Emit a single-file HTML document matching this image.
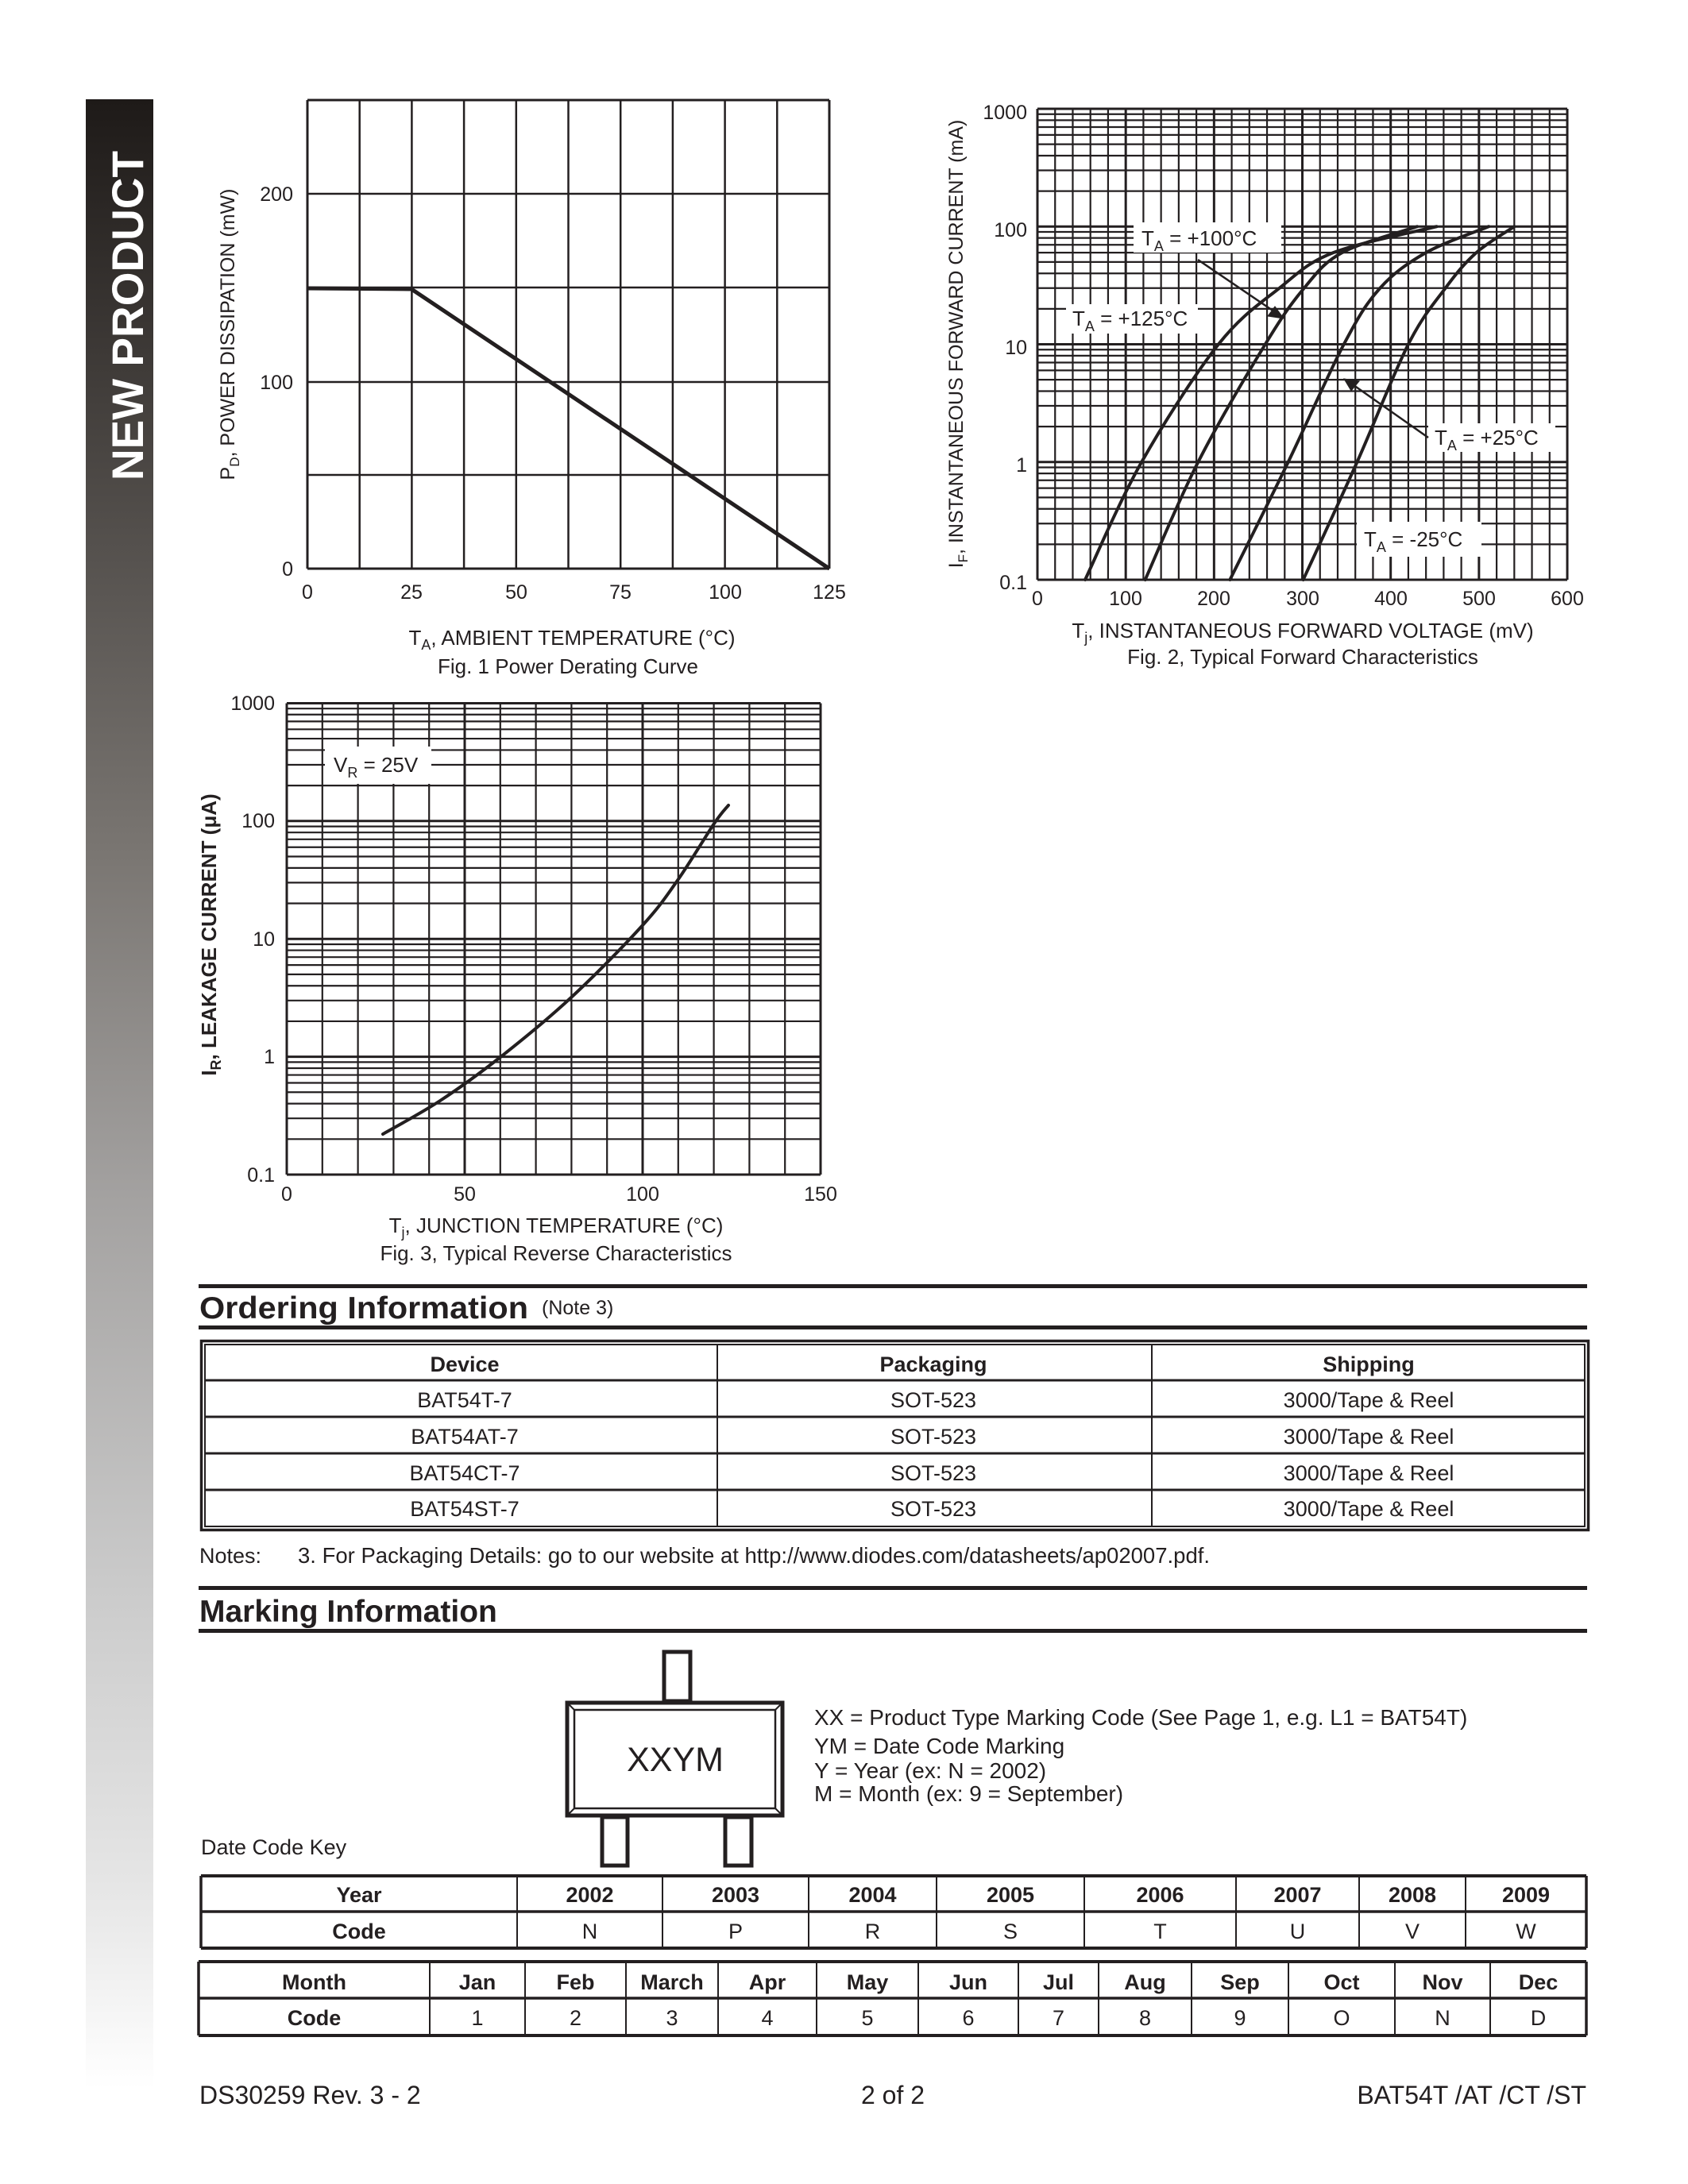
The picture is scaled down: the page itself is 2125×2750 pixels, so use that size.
<!DOCTYPE html>
<html><head><meta charset="utf-8"><style>
html,body{margin:0;padding:0;background:#fff}
svg{display:block}
text{font-family:"Liberation Sans",Arial,sans-serif;fill:#231f20}
</style></head><body>
<svg id="s" xmlns="http://www.w3.org/2000/svg" width="2125" height="2750" viewBox="0 0 2125 2750">
<defs>
<linearGradient id="g" x1="0" y1="0" x2="0" y2="1">
<stop offset="0" stop-color="#1e1a18"/>
<stop offset="0.18" stop-color="#4a4643"/>
<stop offset="0.38" stop-color="#7a7672"/>
<stop offset="0.55" stop-color="#a3a1a0"/>
<stop offset="0.75" stop-color="#cbcbcb"/>
<stop offset="0.9" stop-color="#e6e6e6"/>
<stop offset="1" stop-color="#ffffff"/>
</linearGradient>
</defs>
<rect width="2125" height="2750" fill="#fff"/>
<rect x="108" y="125" width="85" height="2505" fill="url(#g)"/>
<text transform="translate(180,605) rotate(-90)" font-size="56" font-weight="bold" style="fill:#fff" textLength="415" lengthAdjust="spacingAndGlyphs">NEW PRODUCT</text>

<g id="grids" stroke="#231f20" fill="none"></g>

<!-- Fig1 curve -->
<polyline points="387,363 518,364 1044,716" fill="none" stroke="#231f20" stroke-width="5"/>
<g font-size="25" text-anchor="end">
<text x="369" y="253">200</text><text x="369" y="490">100</text><text x="369" y="725">0</text>
</g>
<g font-size="25" text-anchor="middle">
<text x="387" y="754">0</text><text x="518" y="754">25</text><text x="650" y="754">50</text><text x="781" y="754">75</text><text x="913" y="754">100</text><text x="1044" y="754">125</text>
</g>
<text transform="translate(295,421) rotate(-90)" font-size="25" text-anchor="middle">P<tspan font-size="17" dy="6">D</tspan><tspan dy="-6">, POWER DISSIPATION (mW)</tspan></text>
<text x="720" y="812" font-size="26" text-anchor="middle">T<tspan font-size="18" dy="6">A</tspan><tspan dy="-6">,  AMBIENT TEMPERATURE (°C)</tspan></text>
<text x="715" y="848" font-size="26" text-anchor="middle">Fig. 1  Power Derating Curve</text>

<!-- Fig2 labels -->
<g font-size="25" text-anchor="end">
<text x="1293" y="150">1000</text><text x="1293" y="298">100</text><text x="1293" y="446">10</text><text x="1293" y="594">1</text><text x="1293" y="742">0.1</text>
</g>
<g font-size="25" text-anchor="middle">
<text x="1306" y="762">0</text><text x="1417" y="762">100</text><text x="1528" y="762">200</text><text x="1640" y="762">300</text><text x="1751" y="762">400</text><text x="1862" y="762">500</text><text x="1973" y="762">600</text>
</g>
<text transform="translate(1212,433) rotate(-90)" font-size="25" text-anchor="middle">I<tspan font-size="17" dy="6">F</tspan><tspan dy="-6">, INSTANTANEOUS FORWARD CURRENT (mA)</tspan></text>
<text x="1640" y="803" font-size="26" text-anchor="middle">T<tspan font-size="18" dy="6">j</tspan><tspan dy="-6">, INSTANTANEOUS FORWARD VOLTAGE (mV)</tspan></text>
<text x="1640" y="836" font-size="26" text-anchor="middle">Fig. 2, Typical Forward Characteristics</text>

<!-- Fig3 labels -->
<g font-size="25" text-anchor="end">
<text x="346" y="894">1000</text><text x="346" y="1042">100</text><text x="346" y="1191">10</text><text x="346" y="1339">1</text><text x="346" y="1488">0.1</text>
</g>
<g font-size="25" text-anchor="middle">
<text x="361" y="1512">0</text><text x="585" y="1512">50</text><text x="809" y="1512">100</text><text x="1033" y="1512">150</text>
</g>
<text transform="translate(272,1177) rotate(-90)" font-size="26" font-weight="bold" text-anchor="middle">I<tspan font-size="18" dy="6">R</tspan><tspan dy="-6">, LEAKAGE CURRENT (μA)</tspan></text>
<text x="700" y="1552" font-size="26" text-anchor="middle">T<tspan font-size="18" dy="6">j</tspan><tspan dy="-6">, JUNCTION TEMPERATURE (°C)</tspan></text>
<text x="700" y="1587" font-size="26" text-anchor="middle">Fig. 3, Typical Reverse Characteristics</text>

<!-- Ordering -->
<rect x="250" y="1617" width="1748" height="5" fill="#231f20"/>
<text x="251" y="1660" font-size="39" font-weight="bold" textLength="414" lengthAdjust="spacingAndGlyphs">Ordering Information</text>
<text x="682" y="1655" font-size="25">(Note 3)</text>
<rect x="250" y="1669" width="1748" height="5" fill="#231f20"/>
<rect x="253.5" y="1688.5" width="1746" height="238" fill="none" stroke="#231f20" stroke-width="3.5"/>
<rect x="258" y="1693" width="1737" height="229" fill="none" stroke="#231f20" stroke-width="2"/>
<g stroke="#231f20" stroke-width="3">
<line x1="258" y1="1738" x2="1995" y2="1738"/><line x1="258" y1="1784" x2="1995" y2="1784"/><line x1="258" y1="1830" x2="1995" y2="1830"/><line x1="258" y1="1876" x2="1995" y2="1876"/>
</g>
<g stroke="#231f20" stroke-width="2"><line x1="903" y1="1693" x2="903" y2="1922"/><line x1="1450" y1="1693" x2="1450" y2="1922"/></g>
<g font-size="27" text-anchor="middle">
<text x="585" y="1727" font-weight="bold">Device</text><text x="1175" y="1727" font-weight="bold">Packaging</text><text x="1723" y="1727" font-weight="bold">Shipping</text>
<text x="585" y="1772">BAT54T-7</text><text x="1175" y="1772">SOT-523</text><text x="1723" y="1772">3000/Tape &amp; Reel</text>
<text x="585" y="1818">BAT54AT-7</text><text x="1175" y="1818">SOT-523</text><text x="1723" y="1818">3000/Tape &amp; Reel</text>
<text x="585" y="1864">BAT54CT-7</text><text x="1175" y="1864">SOT-523</text><text x="1723" y="1864">3000/Tape &amp; Reel</text>
<text x="585" y="1909">BAT54ST-7</text><text x="1175" y="1909">SOT-523</text><text x="1723" y="1909">3000/Tape &amp; Reel</text>
</g>
<text x="251" y="1968" font-size="27">Notes:</text>
<text x="375" y="1968" font-size="27.5">3.  For Packaging Details: go to our website at http://www.diodes.com/datasheets/ap02007.pdf.</text>

<!-- Marking -->
<rect x="250" y="1997" width="1748" height="5" fill="#231f20"/>
<text x="251" y="2042" font-size="39" font-weight="bold">Marking Information</text>
<rect x="250" y="2051" width="1748" height="5" fill="#231f20"/>
<g stroke="#231f20" fill="#fff">
<rect x="836" y="2080" width="33" height="62" stroke-width="5"/>
<rect x="758" y="2288" width="32" height="61" stroke-width="5"/>
<rect x="913" y="2288" width="33" height="61" stroke-width="5"/>
<rect x="714" y="2144" width="271" height="142" stroke-width="5"/>
<rect x="723" y="2153" width="253" height="124" stroke-width="2.5"/>
<line x1="716" y1="2146" x2="723" y2="2153" stroke-width="2"/><line x1="983" y1="2146" x2="976" y2="2153" stroke-width="2"/>
<line x1="716" y1="2284" x2="723" y2="2277" stroke-width="2"/><line x1="983" y1="2284" x2="976" y2="2277" stroke-width="2"/>
</g>
<text x="850" y="2230" font-size="43" text-anchor="middle">XXYM</text>
<g font-size="28">
<text x="1025" y="2172">XX = Product Type Marking Code (See Page 1, e.g. L1 = BAT54T)</text>
<text x="1025" y="2208">YM = Date Code Marking</text>
<text x="1025" y="2239">Y = Year (ex: N = 2002)</text>
<text x="1025" y="2268">M = Month (ex: 9 = September)</text>
<text x="253" y="2335" font-size="27">Date Code Key</text>
</g>
<g id="tables"></g>

<g font-size="32">
<text x="251" y="2649">DS30259 Rev. 3 - 2</text>
<text x="1124" y="2649" text-anchor="middle">2 of 2</text>
<text x="1997" y="2649" text-anchor="end">BAT54T /AT /CT /ST</text>
</g>
</svg>
<script>
var NS="http://www.w3.org/2000/svg";
var G=document.getElementById("grids");
function L(x1,y1,x2,y2,w,p){var e=document.createElementNS(NS,"line");e.setAttribute("x1",x1);e.setAttribute("y1",y1);e.setAttribute("x2",x2);e.setAttribute("y2",y2);e.setAttribute("stroke-width",w);(p||G).appendChild(e);}
function P(pts,w){var d="M"+pts[0][0]+","+pts[0][1];
for(var i=0;i<pts.length-1;i++){var p0=pts[i-1]||pts[i],p1=pts[i],p2=pts[i+1],p3=pts[i+2]||p2;
var c1=[p1[0]+(p2[0]-p0[0])/6,p1[1]+(p2[1]-p0[1])/6],c2=[p2[0]-(p3[0]-p1[0])/6,p2[1]-(p3[1]-p1[1])/6];
d+=" C"+c1.join(",")+" "+c2.join(",")+" "+p2.join(",");}
var e=document.createElementNS(NS,"path");e.setAttribute("d",d);e.setAttribute("stroke-width",w);e.setAttribute("fill","none");e.setAttribute("stroke-linecap","round");G.appendChild(e);}
function R(x,y,w,h){var e=document.createElementNS(NS,"rect");e.setAttribute("x",x);e.setAttribute("y",y);e.setAttribute("width",w);e.setAttribute("height",h);e.setAttribute("fill","#fff");e.setAttribute("stroke","none");G.appendChild(e);}
function T(x,y,s,sub,rest,fs){var e=document.createElementNS(NS,"text");e.setAttribute("x",x);e.setAttribute("y",y);e.setAttribute("font-size",fs||26);e.setAttribute("stroke","none");e.setAttribute("fill","#231f20");e.innerHTML=s+'<tspan font-size="18" dy="7">'+sub+'</tspan><tspan dy="-7">'+rest+'</tspan>';G.appendChild(e);}
// Fig1
(function(){var l=387,r=1044,t=126,b=716;
for(var i=0;i<=10;i++){var x=l+(r-l)*i/10;L(x,t,x,b,(i==0||i==10)?3:2.5);}
var ys=[126,244,362,481,598,716];ys.forEach(function(y,i){L(l,y,r,y,(i==0||i==5)?3:2.5);});
})();
// Fig2
var F2={l:1306,r:1973,t:137,b:730};
function y2(I){return 730-(Math.log10(I)+1)*148.25;}
function x2(v){return 1306+v*1.1117;}
(function(){var f=F2;
for(var v=0;v<=600;v+=20){L(x2(v),f.t,x2(v),f.b,(v%100==0)?3:2.2);}
for(var d=-1;d<3;d++){var base=Math.pow(10,d);
[1,2,3,4,5,6,7,8,9].forEach(function(m){var y=y2(base*m);L(f.l,y,f.r,y,m==1?3:2.2);});}
L(f.l,f.t,f.r,f.t,3);
R(1427,280,186,38);R(1342,383,166,37);R(1798,533,160,36);R(1708,657,157,44);
T(1437,309,"T","A"," = +100°C");T(1350,410,"T","A"," = +125°C");T(1806,560,"T","A"," = +25°C");T(1717,688,"T","A"," = -25°C");
L(1508,327,1611,397,2.5);L(1798,551,1697,480,2.5);
var pa=document.createElementNS(NS,"polygon");pa.setAttribute("points","1616,401 1596,398 1605,386");pa.setAttribute("fill","#231f20");G.appendChild(pa);
var pb=document.createElementNS(NS,"polygon");pb.setAttribute("points","1692,477 1711,480 1701,492");pb.setAttribute("fill","#231f20");G.appendChild(pb);
var Is=[0.1,1,10,30,60,100];
var C=[[301,362,420,462,497,540],[218,284,347,388,440,511],[122,182,258,302,345,430],[54,118,205,274,335,452]];
C.forEach(function(c){P(c.map(function(v,i){return [x2(v),y2(Is[i])];}),4);});
})();
// Fig3
(function(){var l=361,r=1033;function y3(I){return 1479-(Math.log10(I)+1)*148.4;}
for(var T3=0;T3<=150;T3+=10){var x=l+T3*4.48;L(x,885.5,x,1479,(T3%50==0)?3:2.2);}
for(var d=-1;d<3;d++){var base=Math.pow(10,d);[1,2,3,4,5,6,7,8,9].forEach(function(m){var y=y3(base*m);L(l,y,r,y,m==1?3:2.2);});}
L(l,885.5,r,885.5,3);
R(409,940,134,47);
T(420,972,"V","R"," = 25V",26);
var pts=[[482,1428],[554,1386],[630,1331],[719,1256],[809,1165],[854,1107],[899,1037],[917,1014]];
P(pts,4);
})();
// tables
var TB=document.getElementById("tables");
function txt(x,y,s,b){var e=document.createElementNS(NS,"text");e.setAttribute("x",x);e.setAttribute("y",y);e.setAttribute("font-size",27);e.setAttribute("text-anchor","middle");if(b)e.setAttribute("font-weight","bold");e.textContent=s;TB.appendChild(e);}
function table(cols,t,m,b,r1,r2,y1,y2){
var g=document.createElementNS(NS,"g");g.setAttribute("stroke","#231f20");TB.appendChild(g);
L(cols[0],t,cols[cols.length-1],t,4,g);L(cols[0],m,cols[cols.length-1],m,3.5,g);L(cols[0],b,cols[cols.length-1],b,4,g);
cols.forEach(function(x,i){L(x,t,x,b,(i==0||i==cols.length-1)?3.5:2,g);});
for(var i=0;i<cols.length-1;i++){var cx=(cols[i]+cols[i+1])/2;txt(cx,y1,r1[i],true);txt(cx,y2,r2[i],i==0);}
}
table([253,651,834,1018,1179,1365,1556,1711,1845,1997],2362,2407,2453,
["Year","2002","2003","2004","2005","2006","2007","2008","2009"],["Code","N","P","R","S","T","U","V","W"],2395,2441);
table([250,541,661,788,904,1028,1156,1282,1383,1500,1622,1756,1876,1997],2470,2516,2563,
["Month","Jan","Feb","March","Apr","May","Jun","Jul","Aug","Sep","Oct","Nov","Dec"],["Code","1","2","3","4","5","6","7","8","9","O","N","D"],2505,2550);
</script>
</body></html>
